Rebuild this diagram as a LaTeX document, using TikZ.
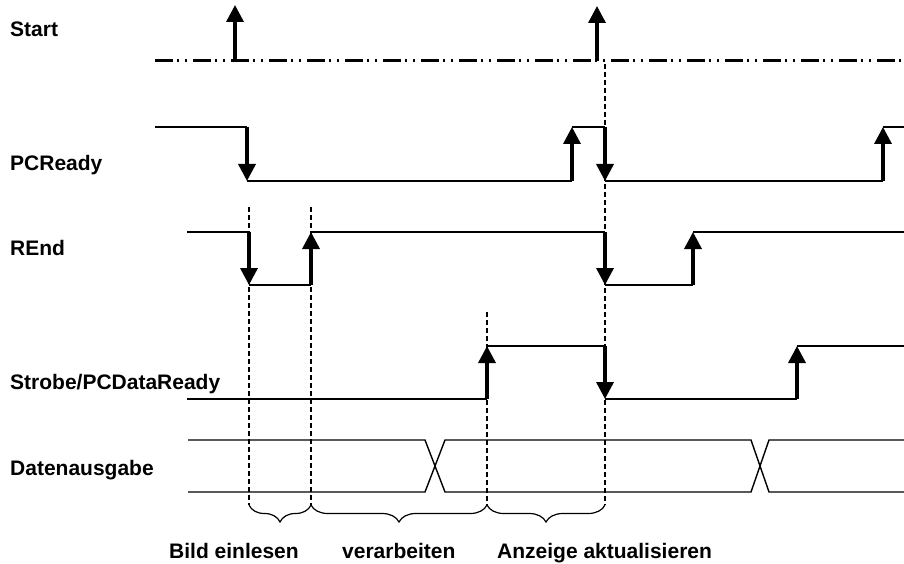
\documentclass[tikz,border=0pt]{standalone}
\usepackage{fontspec}
\setmainfont{Liberation Sans}
\usetikzlibrary{arrows.meta,decorations.pathreplacing}
\begin{document}
\begin{tikzpicture}[x=1pt,y=-1pt,
  lbl/.style={anchor=base west,inner sep=0pt,font=\fontsize{21}{25}\selectfont\bfseries},
  sig/.style={line width=1.4pt},
  edge/.style={line width=3.5pt,-{Triangle[width=17pt,length=17pt]}},
  guide/.style={line width=1.5pt,dash pattern=on 5pt off 3pt},
  startline/.style={line width=3pt,dash pattern=on 18pt off 4pt on 2pt off 6pt on 2pt off 6pt},
  brc/.style={line width=1.2pt,decorate,decoration={brace,mirror,amplitude=17pt}}]
\useasboundingbox (0,0) rectangle (904,564);
% labels
\node[lbl] (lStart) at (10,37) {Start};
\node[lbl] (lPC) at (10,171) {PCReady};
\node[lbl] (lREnd) at (10,255) {REnd};
\node[lbl] (lStrobe) at (10,389) {Strobe/PCDataReady};
\node[lbl] (lDat) at (10,475) {Datenausgabe};
\node[lbl] (bBild) at (169,558) {Bild einlesen};
\node[lbl] (bVer) at (342,558) {verarbeiten};
\node[lbl] (bAnz) at (497,558) {Anzeige aktualisieren};
% guide lines
\draw[guide] (249,207) -- (249,505);
\draw[guide] (311,207) -- (311,505);
\draw[guide] (487,312) -- (487,505);
\draw[guide] (605,64) -- (605,505);
% braces
\draw[brc] (249,505) -- (311,505);
\draw[brc] (311,505) -- (487,505);
\draw[brc] (487,505) -- (605,505);
% Start
\draw[startline] (155,61) -- (904,61);
\draw[edge] (235,61) -- (235,5);
\draw[edge] (597,61) -- (597,6);
% PCReady
\draw[sig] (155,127) -- (247,127);
\draw[edge] (247,127) -- (247,181);
\draw[sig] (247,181) -- (572,181);
\draw[edge] (572,181) -- (572,127);
\draw[sig] (572,127) -- (605,127);
\draw[edge] (605,127) -- (605,181);
\draw[sig] (605,181) -- (883,181);
\draw[edge] (883,181) -- (883,127);
\draw[sig] (883,127) -- (904,127);
% REnd
\draw[sig] (187,232) -- (249,232);
\draw[edge] (249,232) -- (249,285);
\draw[sig] (249,285) -- (311,285);
\draw[edge] (311,285) -- (311,232);
\draw[sig] (311,232) -- (605,232);
\draw[edge] (605,232) -- (605,285);
\draw[sig] (605,285) -- (693,285);
\draw[edge] (693,285) -- (693,232);
\draw[sig] (693,232) -- (904,232);
% Strobe
\draw[sig] (187,399) -- (487,399);
\draw[edge] (487,399) -- (487,346);
\draw[sig] (487,346) -- (605,346);
\draw[edge] (605,346) -- (605,399);
\draw[sig] (605,399) -- (797,399);
\draw[edge] (797,399) -- (797,346);
\draw[sig] (797,346) -- (904,346);
% Datenausgabe
\draw[sig] (188,440) -- (425,440) -- (445,492) -- (751,492) -- (769,440) -- (904,440);
\draw[sig] (188,492) -- (425,492) -- (445,440) -- (751,440) -- (769,492) -- (904,492);
\end{tikzpicture}
\end{document}
